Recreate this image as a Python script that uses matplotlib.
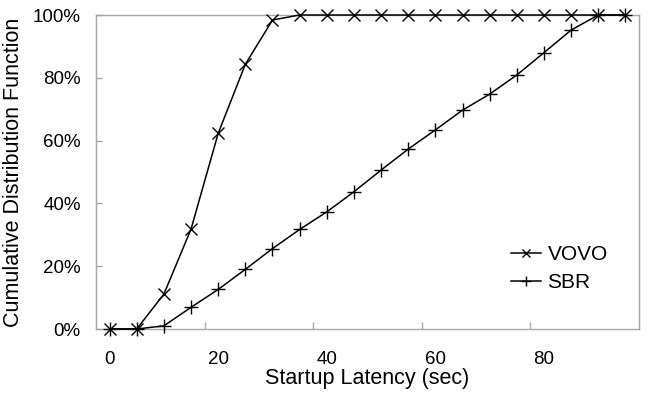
import numpy as np
import matplotlib
matplotlib.use("Agg")
import matplotlib.pyplot as plt
from matplotlib.ticker import FuncFormatter

plt.rcParams['font.family'] = ['Liberation Sans', 'DejaVu Sans']

# startup latency categories (sec)
latency = [0, 5, 10, 15, 20, 25, 30, 35, 40, 45, 50, 55, 60, 65, 70, 75, 80, 85, 90, 95]

# CDF values in percent
vovo = [0, 0, 11.1, 31.8, 62.3, 84.3, 98.4, 100, 100, 100,
        100, 100, 100, 100, 100, 100, 100, 100, 100, 100]
sbr = [0, 0, 1.0, 6.9, 12.6, 19.0, 25.6, 31.7, 37.3, 43.7,
       50.6, 57.3, 63.4, 69.7, 74.8, 80.9, 88.0, 95.2, 100, 100]

x_labels = [0, 20, 40, 60, 80]

gray = '#a6a6a6'

fig = plt.figure(figsize=(6.52, 3.95), dpi=100)
ax = fig.add_axes([96 / 652, 66 / 395, 543 / 652, 314 / 395])

ax.plot(latency, vovo, color='black', lw=1.1, marker='x', ms=8,
        mew=1.0, label='VOVO', clip_on=False, zorder=3)
ax.plot(latency, sbr, color='black', lw=1.1, marker='+', ms=10,
        mew=1.0, label='SBR', clip_on=False, zorder=3)

ax.set_xlim(-2.5, 97.5)
ax.set_ylim(0, 100)

# category-style axis: labels on categories, ticks between them
ax.set_xticks(x_labels)
ax.set_xticklabels([str(v) for v in x_labels])
ax.tick_params(axis='x', which='major', length=0, pad=16, labelsize=13.5)
ax.set_xticks([17.5, 37.5, 57.5, 77.5], minor=True)
ax.tick_params(axis='x', which='minor', direction='in', length=5,
               color=gray, width=1)

ax.set_yticks([0, 20, 40, 60, 80, 100])
ax.yaxis.set_major_formatter(FuncFormatter(lambda v, p: f'{v:.0f}%'))
ax.tick_params(axis='y', direction='in', length=4, color=gray, width=1,
               pad=11, labelsize=13.5)

for s in ax.spines.values():
    s.set_color(gray)
    s.set_linewidth(1)

ax.set_xlabel('Startup Latency (sec)', fontsize=15.5, labelpad=0)
ax.set_ylabel('Cumulative Distribution Function', fontsize=15.5)
ax.yaxis.set_label_coords(-72 / 543, 0.5)

ax.legend(loc='upper left', bbox_to_anchor=(511 / 652, 1 - 245 / 395),
          bbox_transform=fig.transFigure, frameon=False, fontsize=15,
          handlelength=1.45, handletextpad=0.3, labelspacing=0.45,
          borderpad=0, borderaxespad=0, markerscale=0.75)

fig.savefig('out.png', dpi=100)
